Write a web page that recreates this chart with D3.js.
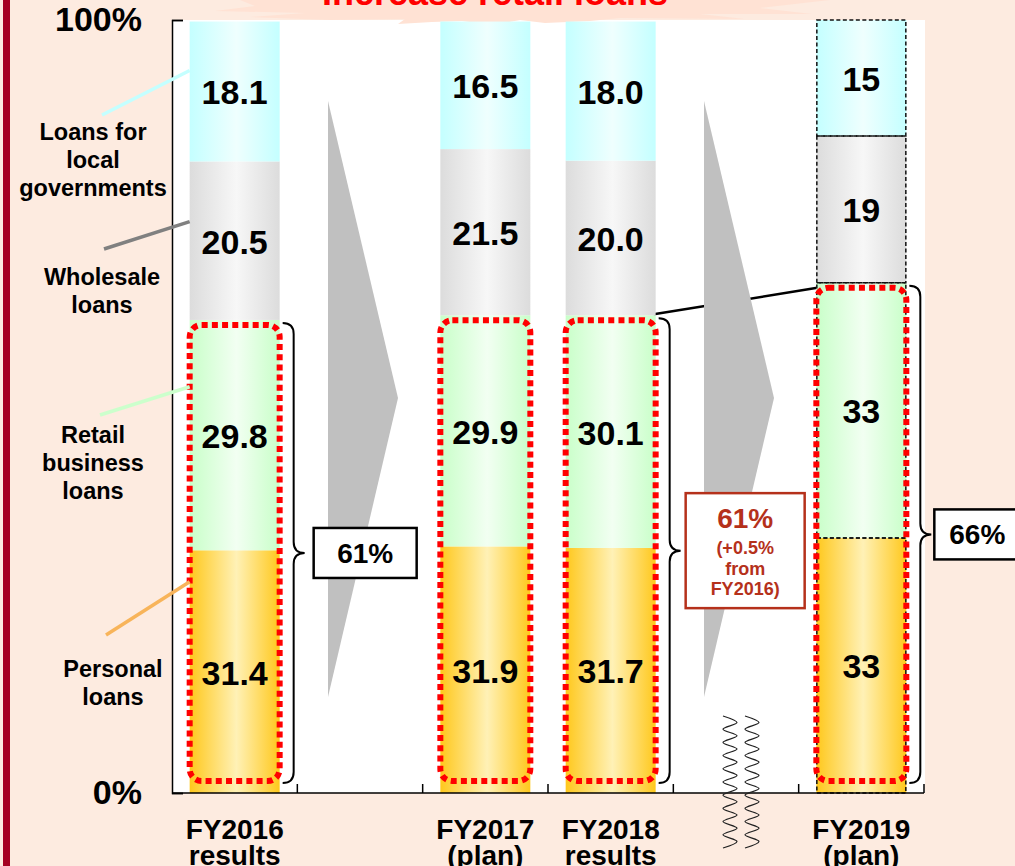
<!DOCTYPE html>
<html>
<head>
<meta charset="utf-8">
<script src="https://cdn.jsdelivr.net/npm/d3@7"></script>
<style>
  body { margin: 0; background: #fdebe0; }
  svg { display: block; font-family: Arial, "Liberation Sans", sans-serif; font-weight: bold; }
</style>
</head>
<body>
<div class="chart"></div>
<script>
// chart values (share of loans, %)
const categories = ["FY2016", "FY2017", "FY2018", "FY2019"];
const subLabels = ["results", "(plan)", "results", "(plan)"];
const personalLoans = [31.4, 31.9, 31.7, 33];
const retailBusinessLoans = [29.8, 29.9, 30.1, 33];
const wholesaleLoans = [20.5, 21.5, 20.0, 19];
const localGovLoans = [18.1, 16.5, 18.0, 15];
const decimals = [1, 1, 1, 0];
const yTicks = [0, 100];
const retailShares = ["61%", "61%", "66%"]; // next to FY2016, FY2018, FY2019
const shareNote = ["(+0.5%", "from", "FY2016)"];
const seriesLabels = [
    ["Personal", "loans"],
    ["Retail", "business", "loans"],
    ["Wholesale", "loans"],
    ["Loans for", "local", "governments"]
];
const title = "Increase retail loans";

// slots on the x axis: two empty ones hold the grey arrows
const slots = ["FY2016", "gap1", "FY2017", "FY2018", "gap2", "FY2019"];

const width = 1015, height = 866;
const plotLeft = 172, plotRight = 924, plotTop = 20, plotBottom = 793;

const svg = d3.select(".chart")
    .append("svg")
    .attr("width", width)
    .attr("height", height);

const x = d3.scaleBand()
    .domain(slots)
    .range([plotLeft, plotRight])
    .paddingInner(0.282)
    .paddingOuter(0.141);
const y = d3.scaleLinear().domain([0, 100]).range([plotBottom, plotTop]);
const bw = x.bandwidth();

const keys = ["personal", "retail", "wholesale", "local"];
const rows = categories.map((c, i) => ({
    cat: c,
    personal: personalLoans[i],
    retail: retailBusinessLoans[i],
    wholesale: wholesaleLoans[i],
    local: localGovLoans[i]
}));
const stacked = d3.stack().keys(keys)(rows);

// gradients for the bar fills (edges darker, middle pale)
const fills = {
    personal: ["#ffc81c", "#fff1b6"],
    retail: ["#c9ffc9", "#f2fff2"],
    wholesale: ["#dcdcdc", "#f7f7f7"],
    local: ["#c4ffff", "#effffe"]
};
const defs = svg.append("defs");
keys.forEach(k => {
    const g = defs.append("linearGradient").attr("id", "grad-" + k)
        .attr("x1", "0%").attr("x2", "100%").attr("y1", "0%").attr("y2", "0%");
    g.append("stop").attr("offset", "0%").attr("stop-color", fills[k][0]);
    g.append("stop").attr("offset", "52%").attr("stop-color", fills[k][1]);
    g.append("stop").attr("offset", "100%").attr("stop-color", fills[k][0]);
});

// background + left red band
svg.append("rect").attr("width", width).attr("height", height).attr("fill", "#fdebe0");
svg.append("rect").attr("x", 3).attr("y", 0).attr("width", 7).attr("height", height).attr("fill", "#a50021");

// white plot area
svg.append("rect")
    .attr("x", plotLeft).attr("y", plotTop)
    .attr("width", plotRight - plotLeft + 1).attr("height", plotBottom - plotTop)
    .attr("fill", "#ffffff");

// the burst behind the (cut off) heading
const burst = [[240, 0], [830, 0], [760, 8], [812, 14], [700, 14], [745, 19], [620, 18],
    [590, 21], [545, 23], [520, 20], [492, 25], [462, 21], [432, 22], [398, 24], [405, 19],
    [330, 20], [250, 17], [305, 13], [215, 11], [255, 6]];
svg.append("polygon")
    .attr("points", burst.map(p => p.join(",")).join(" "))
    .attr("fill", "#ffe2d4");
svg.append("text")
    .attr("x", 495).attr("y", 5)
    .attr("text-anchor", "middle")
    .style("font-size", "36px")
    .attr("fill", "#ff0000")
    .text(title);

// connector between FY2018 and FY2019 retail blocks
svg.append("line")
    .attr("x1", x("FY2018") + bw - 2).attr("y1", y(personalLoans[2] + retailBusinessLoans[2]) - 1)
    .attr("x2", x("FY2019") + 1).attr("y2", y(personalLoans[3] + retailBusinessLoans[3]) + 5)
    .attr("stroke", "black")
    .attr("stroke-width", 2.5);

// grey arrows in the empty slots
["gap1", "gap2"].forEach(g => {
    const cx = x(g) + bw / 2;
    svg.append("polygon")
        .attr("points", `${cx - 32},101 ${cx + 38},398 ${cx - 32},697`)
        .attr("fill", "#c0c0c0");
});

// stacked bars
svg.selectAll("g.series")
    .data(stacked)
    .join("g")
    .attr("class", "series")
    .attr("fill", d => `url(#grad-${d.key})`)
    .selectAll("rect")
    .data(d => d)
    .join("rect")
    .attr("x", d => x(d.data.cat))
    .attr("y", d => y(d[1]))
    .attr("width", bw)
    .attr("height", d => y(d[0]) - y(d[1]));

// FY2019 plan segments are outlined with a dashed line
svg.selectAll("rect.plan")
    .data(stacked.map(s => s[3]))
    .join("rect")
    .attr("class", "plan")
    .attr("x", d => x(d.data.cat) + 0.5)
    .attr("y", d => y(d[1]))
    .attr("width", bw - 1)
    .attr("height", d => y(d[0]) - y(d[1]))
    .attr("fill", "none")
    .attr("stroke", "#111")
    .attr("stroke-width", 1.5)
    .attr("stroke-dasharray", "4,2.5");

// red dotted frame around personal + retail
svg.selectAll("rect.frame")
    .data(stacked[1])
    .join("rect")
    .attr("class", "frame")
    .attr("x", d => x(d.data.cat))
    .attr("y", d => y(d[1]) + 5)
    .attr("width", bw)
    .attr("height", d => y(0) - 12 - (y(d[1]) + 5))
    .attr("rx", 12)
    .attr("fill", "none")
    .attr("stroke", "#ff0000")
    .attr("stroke-width", 6)
    .attr("stroke-dasharray", "6,4.2");

// value labels
stacked.forEach(s => {
    svg.selectAll(null)
        .data(s)
        .join("text")
        .attr("x", d => x(d.data.cat) + bw / 2)
        .attr("y", d => (y(d[0]) + y(d[1])) / 2)
        .attr("dy", "0.38em")
        .attr("text-anchor", "middle")
        .style("font-size", "34px")
        .text((d, i) => d3.format(`.${decimals[i]}f`)(d.data[s.key]));
});

// braces for retail share
function brace(x0, y0, y1, d) {
    const m = (y0 + y1) / 2;
    return `M${x0},${y0} Q${x0 + d},${y0} ${x0 + d},${y0 + d} L${x0 + d},${m - d}
        Q${x0 + d},${m} ${x0 + 2 * d},${m} Q${x0 + d},${m} ${x0 + d},${m + d}
        L${x0 + d},${y1 - d} Q${x0 + d},${y1} ${x0},${y1}`;
}
const braceCats = [0, 2, 3];
const boxSpecs = [
    { gap: 9, w: 103, h: 50, color: "black" },
    { gap: 5, w: 119, h: 115, color: "#b5311b" },
    { gap: 3, w: 95, h: 50, color: "black" }
];
braceCats.forEach((ci, j) => {
    const x0 = x(categories[ci]) + bw + 3;
    const y0 = y(personalLoans[ci] + retailBusinessLoans[ci]) + 3;
    const y1 = y(0) - 10;
    svg.append("path")
        .attr("d", brace(x0, y0, y1, 11))
        .attr("fill", "none")
        .attr("stroke", "black")
        .attr("stroke-width", 2);

    const spec = boxSpecs[j];
    const m = (y0 + y1) / 2;
    const bx = x0 + 22 + spec.gap;
    svg.append("rect")
        .attr("x", bx).attr("y", m - spec.h / 2)
        .attr("width", spec.w).attr("height", spec.h)
        .attr("fill", "white")
        .attr("stroke", spec.color)
        .attr("stroke-width", 2.5);
    if (j === 1) {
        svg.append("text")
            .attr("x", bx + spec.w / 2).attr("y", m - 33)
            .attr("dy", "0.36em")
            .attr("text-anchor", "middle")
            .attr("fill", spec.color)
            .style("font-size", "28px")
            .text(retailShares[j]);
        svg.selectAll(null)
            .data(shareNote)
            .join("text")
            .attr("x", bx + spec.w / 2)
            .attr("y", (d, i) => m - 3 + i * 20.5)
            .attr("dy", "0.36em")
            .attr("text-anchor", "middle")
            .attr("fill", spec.color)
            .style("font-size", "18px")
            .text(d => d);
    } else {
        svg.append("text")
            .attr("x", bx + (j === 2 ? 43 : spec.w / 2)).attr("y", m)
            .attr("dy", "0.36em")
            .attr("text-anchor", "middle")
            .style("font-size", "28px")
            .text(retailShares[j]);
    }
});

// y axis
svg.append("g")
    .attr("transform", `translate(${plotLeft},0)`)
    .call(d3.axisLeft(y).tickValues(yTicks).tickSize(-11).tickPadding(30).tickFormat(d => d + "%"))
    .call(g => g.select(".domain").attr("stroke-width", 1.5))
    .call(g => g.selectAll("line").attr("stroke-width", 1.5))
    .call(g => g.selectAll("text").style("font-size", "34px").attr("font-weight", "bold").attr("font-family", null));

// x axis: baseline with ticks between slots
const bounds = slots.map(s => x(s) - x.step() * x.paddingInner() / 2).concat([plotRight]);
svg.append("line")
    .attr("x1", plotLeft).attr("x2", plotRight)
    .attr("y1", plotBottom).attr("y2", plotBottom)
    .attr("stroke", "black").attr("stroke-width", 1.5);
svg.selectAll("line.xtick")
    .data(bounds.slice(1))
    .join("line")
    .attr("class", "xtick")
    .attr("x1", d => d).attr("x2", d => d)
    .attr("y1", plotBottom).attr("y2", plotBottom - 9)
    .attr("stroke", "black").attr("stroke-width", 1.5);

const xl = svg.selectAll("g.xlabel")
    .data(categories)
    .join("g")
    .attr("class", "xlabel")
    .attr("transform", d => `translate(${x(d) + bw / 2},0)`);
xl.append("text").attr("y", 839).attr("text-anchor", "middle").style("font-size", "28px").text(d => d);
xl.append("text").attr("y", 865).attr("text-anchor", "middle").style("font-size", "28px").text((d, i) => subLabels[i]);

// series labels on the left with leader lines to the FY2016 bar
const leaderColors = ["#f8b45a", "#ccffcc", "#808080", "#c4ffff"];
const leaderFrac = [0.87, 0.71, 0.62, 0.65];     // where the line meets the FY2016 segment
const leaderStart = [[106, 635], [100, 415], [104, 249], [102, 115]];
const labelCenters = [113, 93, 102, 93];
const labelFirstBase = [677, 443, 285, 140];
stacked.forEach((s, k) => {
    const seg = s[0];
    svg.append("line")
        .attr("x1", leaderStart[k][0]).attr("y1", leaderStart[k][1])
        .attr("x2", x("FY2016")).attr("y2", y(seg[0] + (seg[1] - seg[0]) * leaderFrac[k]))
        .attr("stroke", leaderColors[k])
        .attr("stroke-width", 3.5);
    svg.selectAll(null)
        .data(seriesLabels[k])
        .join("text")
        .attr("x", labelCenters[k])
        .attr("y", (d, i) => labelFirstBase[k] + i * 28)
        .attr("text-anchor", "middle")
        .style("font-size", "23.5px")
        .text(d => d);
});

// wavy break marks under the second arrow
const waveLine = d3.line().curve(d3.curveCatmullRom);
const cxw = x("gap2") + bw / 2;
[cxw - 6, cxw + 16].forEach(cx => {
    const pts = d3.range(0, 21).map(i => [cx + (i % 2 ? 7 : -7), 716 + i * 6.6]);
    svg.append("path")
        .attr("d", waveLine(pts))
        .attr("fill", "none")
        .attr("stroke", "#222")
        .attr("stroke-width", 1.2);
});
</script>
</body>
</html>
